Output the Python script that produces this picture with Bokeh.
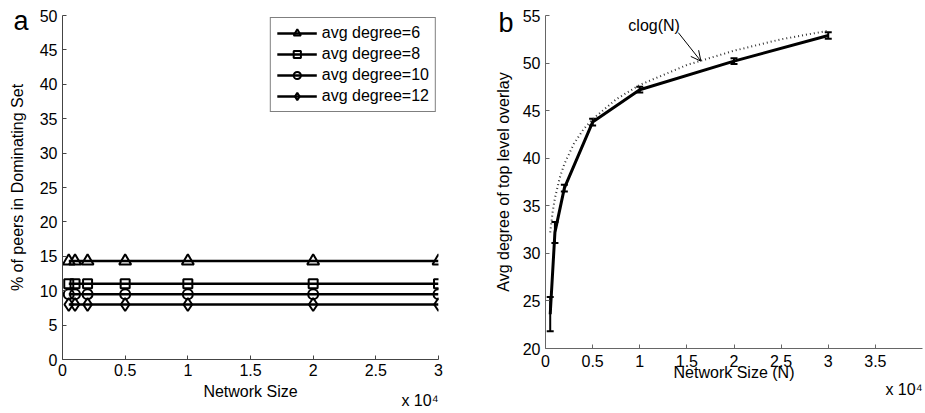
from bokeh.plotting import figure
from bokeh.layouts import row
from bokeh.models import (ColumnDataSource, Legend, LegendItem, Label, Arrow, OpenHead,
                          Whisker, TeeHead, FixedTicker)
from bokeh.embed import file_html
from bokeh.resources import INLINE

# ---------------- data ----------------
net_size = [500, 1000, 2000, 5000, 10000, 20000, 30000]
deg6 = [14.3, 14.3, 14.3, 14.3, 14.3, 14.3, 14.3]
deg8 = [11.0, 11.0, 11.0, 11.0, 11.0, 11.0, 11.0]
deg10 = [9.5, 9.5, 9.5, 9.5, 9.5, 9.5, 9.5]
deg12 = [8.0, 8.0, 8.0, 8.0, 8.0, 8.0, 8.0]
series_labels = ["avg degree=6", "avg degree=8", "avg degree=10", "avg degree=12"]

avg_degree = [23.6, 32.2, 36.85, 43.8, 47.2, 50.2, 52.9]
avg_err = [1.8, 1.1, 0.35, 0.35, 0.3, 0.3, 0.35]

clog_n = [500, 750, 1000, 1500, 2000, 3000, 4000, 5000, 7500, 10000, 15000, 20000, 25000, 30000]
clog_v = [32.2, 34.3, 35.8, 37.9, 39.4, 41.5, 43.0, 44.1, 46.2, 47.7, 49.8, 51.3, 52.5, 53.4]

x_ticks_a = [0, 5000, 10000, 15000, 20000, 25000, 30000]
x_ticks_b = [0, 5000, 10000, 15000, 20000, 25000, 30000, 35000]
x_tick_text = {0: "0", 5000: "0.5", 10000: "1", 15000: "1.5", 20000: "2",
               25000: "2.5", 30000: "3", 35000: "3.5"}

FONT = "Liberation Sans"
FS = "16px"


def style_axes(p, axis_color):
    for ax in (p.xaxis[0], p.yaxis[0]):
        ax.major_tick_in = 4
        ax.major_tick_out = 0
        ax.minor_tick_in = 0
        ax.minor_tick_out = 0
        ax.axis_line_color = axis_color
        ax.major_tick_line_color = axis_color
        ax.major_label_text_font = FONT
        ax.major_label_text_font_size = FS
        ax.major_label_text_color = "black"
        ax.axis_label_text_font = FONT
        ax.axis_label_text_font_size = FS
        ax.axis_label_text_font_style = "normal"
        ax.axis_label_text_color = "black"
    p.xgrid.visible = False
    p.ygrid.visible = False
    p.outline_line_color = None


def text_label(x, y, text, align, baseline, size=FS):
    return Label(x=x, y=y, text=text, text_align=align, text_baseline=baseline,
                 text_font=FONT, text_font_size=size, text_color="black")


# ---------------- panel a ----------------
pa = figure(width=470, height=419, x_range=(0, 30000), y_range=(0, 50),
            output_backend="svg", toolbar_location=None,
            min_border_left=71, min_border_right=22, min_border_top=15, min_border_bottom=59,
            margin=(0, 0, -6, -10))
style_axes(pa, "#444444")
pa.xaxis.ticker = FixedTicker(ticks=x_ticks_a)
pa.xaxis.major_label_overrides = {k: v for k, v in x_tick_text.items() if k in x_ticks_a}
pa.yaxis.ticker = FixedTicker(ticks=list(range(0, 51, 5)))
pa.xaxis.axis_label = "Network Size"
pa.yaxis.axis_label = "% of peers in Dominating Set"
pa.xaxis.axis_label_standoff = 4
pa.yaxis.axis_label_standoff = 11
pa.xaxis.major_label_standoff = 4
pa.yaxis.major_label_standoff = 5

items = []
for vals, marker, size, lab in zip([deg6, deg8, deg10, deg12],
                                   ["triangle", "square", "circle", "diamond"],
                                   [12, 9, 10, 13], series_labels):
    src = ColumnDataSource(dict(x=net_size, y=vals))
    l = pa.line("x", "y", source=src, line_color="black", line_width=2.5)
    s = pa.scatter("x", "y", source=src, marker=marker, size=size, line_color="black",
                   line_width=2, fill_color=None)
    items.append(LegendItem(label=lab, renderers=[l, s]))

leg = Legend(items=items, location="top_right", margin=2, padding=6, spacing=3,
             glyph_width=40, glyph_height=18, label_height=18, label_standoff=5,
             label_text_font=FONT, label_text_font_size=FS, label_text_color="black",
             border_line_color="black", border_line_width=1,
             background_fill_alpha=1.0)
pa.add_layout(leg)

pa.add_layout(text_label(30000, -5.9, "x 10\u2074", "right", "middle"), "below")
pa.add_layout(text_label(-3900, 49.2, "a", "left", "alphabetic", "27px"), "left")

# ---------------- panel b ----------------
pb = figure(width=465, height=408, x_range=(0, 40000), y_range=(20, 55),
            output_backend="svg", toolbar_location=None,
            min_border_left=85, min_border_right=3, min_border_top=15, min_border_bottom=59)
style_axes(pb, "#666666")
pb.xaxis.ticker = FixedTicker(ticks=x_ticks_b)
pb.xaxis.major_label_overrides = {k: v for k, v in x_tick_text.items() if k in x_ticks_b}
pb.yaxis.ticker = FixedTicker(ticks=list(range(20, 56, 5)))
pb.xaxis.axis_label = "Network Size (N)"
pb.yaxis.axis_label = "Avg degree of top level overlay"
pb.xaxis.axis_label_standoff = -6
pb.yaxis.axis_label_standoff = 8
pb.xaxis.major_label_standoff = 6
pb.yaxis.major_label_standoff = 5

pb.line(clog_n, clog_v, line_color="#333333", line_width=2, line_dash="1 3")

srcb = ColumnDataSource(dict(x=net_size, y=avg_degree,
                             lo=[m - e for m, e in zip(avg_degree, avg_err)],
                             hi=[m + e for m, e in zip(avg_degree, avg_err)]))
pb.line("x", "y", source=srcb, line_color="black", line_width=3)
pb.add_layout(Whisker(source=srcb, base="x", lower="lo", upper="hi",
                      line_color="black", line_width=2,
                      upper_head=TeeHead(size=7, line_width=2, line_color="black"),
                      lower_head=TeeHead(size=7, line_width=2, line_color="black")))

pb.add_layout(text_label(8790, 53.9, "clog(N)", "left", "middle"))
pb.add_layout(Arrow(x_start=14090, y_start=53.2, x_end=16490, y_end=50.2,
                    line_color="black", line_width=1,
                    end=OpenHead(size=10, line_width=1, line_color="black")))
pb.add_layout(text_label(40000, 15.7, "x 10\u2074", "right", "middle"), "below")
pb.add_layout(text_label(-4980, 54.2, "b", "left", "alphabetic", "27px"), "left")

layout = row(pa, pb)
open("out.html", "w").write(file_html(layout, INLINE))
